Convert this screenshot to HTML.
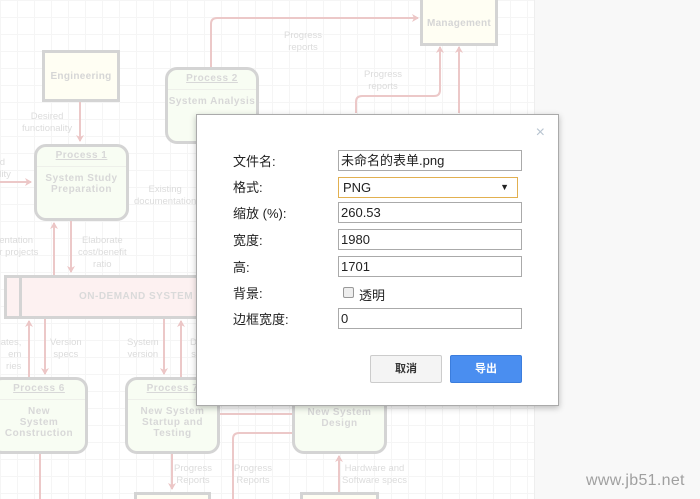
<!DOCTYPE html>
<html><head><meta charset="utf-8"><style>
*{margin:0;padding:0;box-sizing:border-box}
html,body{width:700px;height:499px;overflow:hidden}
body{position:relative;background:#f8f8f8;font-family:"Liberation Sans","Noto Sans CJK SC",sans-serif}
#canvas{position:absolute;left:0;top:0;width:535px;height:499px;background-color:#fff;background-image:linear-gradient(#f5f5f5 1px,transparent 1px),linear-gradient(90deg,#f5f5f5 1px,transparent 1px);background-size:17px 17px;border-right:1px solid #eee}
.b{position:absolute;border:3px solid #d4d4d4;background:#fffef3;color:#d6d6d6;font-size:10px;font-weight:bold;display:flex;align-items:center;justify-content:center;text-align:center;letter-spacing:.3px}
.p{position:absolute;border:3px solid #d4d4d4;border-radius:12px;background:#f8fdf3;color:#d8d8d8;font-size:10px;font-weight:bold;text-align:center;letter-spacing:.5px;line-height:11px}
.p .h{text-decoration:underline;height:20px;line-height:18px;border-bottom:1px solid #eef0ea;margin-bottom:6px}
.l{position:absolute;color:#dcdcdc;font-size:9.5px;text-align:center;line-height:12px;white-space:nowrap}
.dlg{position:absolute;left:196px;top:114px;width:363px;height:292px;background:#fff;border:1px solid #aaa;box-shadow:0 2px 6px rgba(0,0,0,.25)}
.lb{position:absolute;left:36px;font-size:13px;color:#222}
.in{position:absolute;left:141px;width:184px;height:21px;border:1px solid #aaa;font-size:13px;line-height:19px;padding-left:2px;color:#222;font-family:"Liberation Sans","Noto Sans CJK SC",sans-serif}
.btn{position:absolute;top:240px;width:72px;height:28px;border-radius:2px;font-size:11px;font-weight:bold;text-align:center;line-height:27px}
</style></head><body>
<div id="canvas"></div>
<svg style="position:absolute;left:0;top:0" width="535" height="499">
<defs><marker id="a" markerWidth="8" markerHeight="8" refX="6" refY="4" orient="auto" markerUnits="userSpaceOnUse"><path d="M0,0 L7,4 L0,8 L2,4z" fill="#ecc6c6"/></marker></defs>
<g stroke="#ecc8c8" stroke-width="2" fill="none">
<path d="M211,67 V24 Q211,18 217,18 H418" marker-end="url(#a)"/>
<path d="M356,113 V102 Q356,96 362,96 H434 Q440,96 440,90 V47" marker-end="url(#a)"/>
<path d="M459,113 V47" marker-end="url(#a)"/>
<path d="M80,101 V141" marker-end="url(#a)"/>
<path d="M0,182 H31" marker-end="url(#a)"/>
<path d="M54,275 V223" marker-end="url(#a)"/>
<path d="M71,220 V272" marker-end="url(#a)"/>
<path d="M29,377 V321" marker-end="url(#a)"/>
<path d="M45,318 V374" marker-end="url(#a)"/>
<path d="M164,318 V374" marker-end="url(#a)"/>
<path d="M181,377 V321" marker-end="url(#a)"/>
<path d="M219,414 H292"/>
<path d="M292,433 H239 Q233,433 233,439 V499"/>
<path d="M172,453 V489" marker-end="url(#a)"/>
<path d="M40,453 V499"/>
<path d="M339,492 V456" marker-end="url(#a)"/>
</g></svg>
<div class="b" style="left:42px;top:50px;width:78px;height:52px">Engineering</div>
<div class="b" style="left:420px;top:-10px;width:78px;height:56px;padding-top:10px">Management</div>
<div class="p" style="left:165px;top:67px;width:94px;height:77px"><div class="h">Process 2</div>System Analysis</div>
<div class="p" style="left:34px;top:144px;width:95px;height:77px"><div class="h">Process 1</div>System Study<br>Preparation</div>
<div style="position:absolute;left:4px;top:275px;width:200px;height:44px;border:3px solid #d4d4d4;background:#fdf1f1;color:#dadada;font-size:10px;font-weight:bold;line-height:38px;padding-left:72px;letter-spacing:.5px;white-space:nowrap;overflow:hidden">ON-DEMAND SYSTEM D</div>
<div style="position:absolute;left:19px;top:275px;width:3px;height:44px;background:#d4d4d4"></div>
<div class="p" style="left:-10px;top:377px;width:98px;height:77px"><div class="h">Process 6</div>New<br>System<br>Construction</div>
<div class="p" style="left:125px;top:377px;width:95px;height:77px"><div class="h">Process 7</div>New System<br>Startup and<br>Testing</div>
<div class="p" style="left:292px;top:370px;width:95px;height:84px;padding-top:34px">New System<br>Design</div>
<div class="b" style="left:134px;top:492px;width:77px;height:7px;border-bottom:none"></div>
<div class="b" style="left:300px;top:492px;width:79px;height:7px;border-bottom:none"></div>
<div class="l" style="left:284px;top:30px">Progress<br>reports</div>
<div class="l" style="left:364px;top:69px">Progress<br>reports</div>
<div class="l" style="left:22px;top:111px">Desired<br>functionality</div>
<div class="l" style="left:-6px;top:157px">d<br>ality</div>
<div class="l" style="left:134px;top:184px">Existing<br>documentation</div>
<div class="l" style="left:-6px;top:235px">entation<br>ar projects</div>
<div class="l" style="left:78px;top:235px">Elaborate<br>cost/benefit<br>ratio</div>
<div class="l" style="left:-4px;top:337px;text-align:right">cates,<br>em<br>ries</div>
<div class="l" style="left:50px;top:337px">Version<br>specs</div>
<div class="l" style="left:127px;top:337px">System<br>version</div>
<div class="l" style="left:190px;top:337px">D<br>s</div>
<div class="l" style="left:174px;top:463px">Progress<br>Reports</div>
<div class="l" style="left:234px;top:463px">Progress<br>Reports</div>
<div class="l" style="left:342px;top:463px">Hardware and<br>Software specs</div>
<div style="position:absolute;left:586px;top:472px;font-size:16px;color:#a0a0a0;letter-spacing:.3px">www.jb51.net</div>
<div class="dlg">
<div style="position:absolute;right:13px;top:9px;color:#b8c4d0;font-size:16px">×</div>
<div class="lb" style="top:36px">文件名:</div><div class="in" style="top:35px">未命名的表单.png</div>
<div class="lb" style="top:62px">格式:</div><div class="in" style="top:62px;width:180px;border-color:#e2b050;padding-left:4px">PNG<span style="position:absolute;right:8px;font-size:9px">▼</span></div>
<div class="lb" style="top:88px">缩放 (%):</div><div class="in" style="top:87px">260.53</div>
<div class="lb" style="top:115px">宽度:</div><div class="in" style="top:114px">1980</div>
<div class="lb" style="top:142px">高:</div><div class="in" style="top:141px">1701</div>
<div class="lb" style="top:168px">背景:</div>
<div style="position:absolute;left:146px;top:172px;width:11px;height:11px;border:1px solid #999;border-radius:2px;background:#eee"></div>
<div class="lb" style="left:162px;top:170px">透明</div>
<div class="lb" style="top:194px">边框宽度:</div><div class="in" style="top:193px">0</div>
<div class="btn" style="left:173px;background:#f4f4f4;border:1px solid #ccc;color:#333">取消</div>
<div class="btn" style="left:253px;background:#4a8ef0;border:1px solid #3b7ddd;color:#fff">导出</div>
</div>
</body></html>
